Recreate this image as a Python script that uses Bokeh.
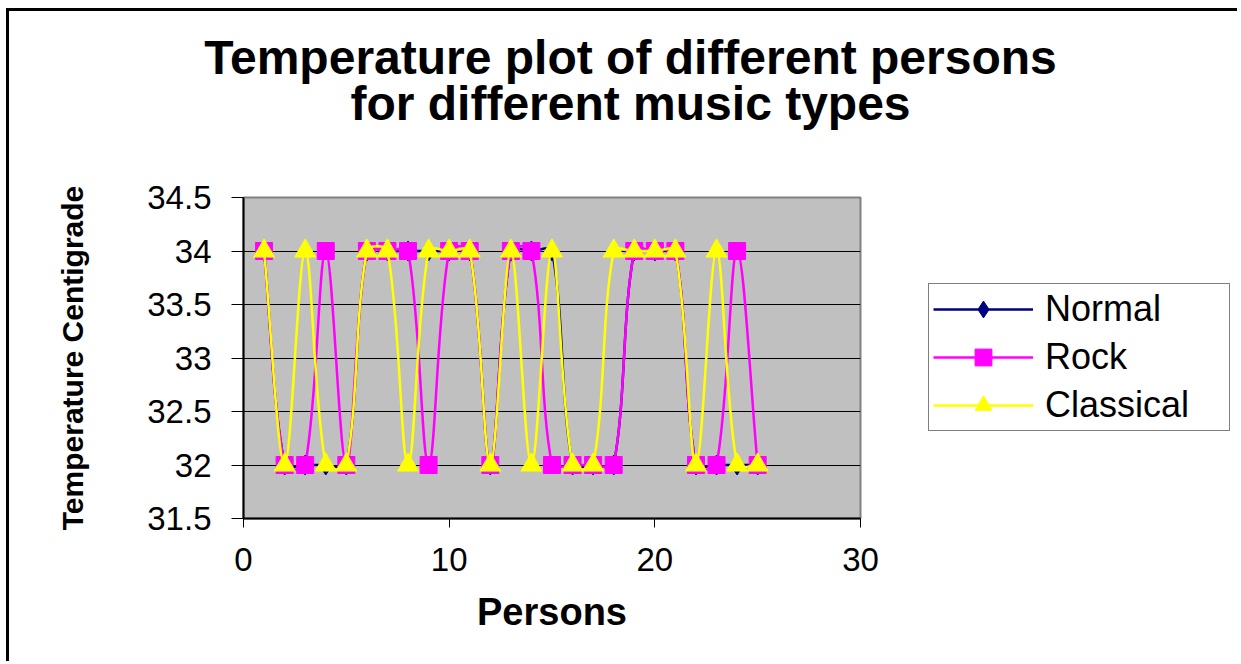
import numpy as np
from bokeh.plotting import figure
from bokeh.layouts import column, row
from bokeh.models import (Label, Legend, LegendItem, Range1d, FixedTicker,
                          NumeralTickFormatter)
from bokeh.embed import file_html
from bokeh.resources import INLINE

# ---------------- data ----------------
persons = list(range(1, 26))
normal = [34, 32, 32, 32, 32, 34, 34, 34, 34, 34, 34, 32, 34, 34, 34, 32, 32, 32, 34, 34, 34, 32, 32, 32, 32]
rock = [34, 32, 32, 34, 32, 34, 34, 34, 32, 34, 34, 32, 34, 34, 32, 32, 32, 32, 34, 34, 34, 32, 32, 34, 32]
classical = [34, 32, 34, 32, 32, 34, 34, 32, 34, 34, 34, 32, 34, 32, 34, 32, 32, 34, 34, 34, 34, 32, 34, 32, 32]
series_names = ["Normal", "Rock", "Classical"]
x_ticks = [0, 10, 20, 30]
y_ticks = [31.5, 32, 32.5, 33, 33.5, 34, 34.5]
title_lines = ["Temperature plot of different persons", "for different music types"]
x_label = "Persons"
y_label = "Temperature Centigrade"

FONT = "Liberation Sans"
X_RANGE = (0, 30)
Y_RANGE = (31.5, 34.5)

# ---------------- layout (page pixels) ----------------
MARGIN_L, MARGIN_T, BORDER = 6, 8, 3
CANVAS_LEFT, CANVAS_TOP = MARGIN_L + BORDER, MARGIN_T + BORDER
W = 1228
TOTAL_H = 650
TOP_H = 166                               # title strip
FRAME_L, FRAME_R, FRAME_T, FRAME_B = 243, 860, 197, 518
MAIN_TOP = CANVAS_TOP + TOP_H
MAIN_H = TOTAL_H - TOP_H
PW = 876                                  # chart figure width
LW = W - PW                               # legend strip width
LEG_L, LEG_B = 928, 431                   # legend box left / bottom

px_per_x = (FRAME_R - FRAME_L) / (X_RANGE[1] - X_RANGE[0])
px_per_y = (FRAME_B - FRAME_T) / (Y_RANGE[1] - Y_RANGE[0])


def smooth_segments(xs, ys, f=1.0 / 6.0):
    """Excel-like smoothed line: Bezier segments whose control arms are weighted
    by the on-screen lengths of the neighbouring segments."""
    x = np.asarray(xs, float)
    y = np.asarray(ys, float)
    n = len(x)
    xp = np.concatenate([[x[0]], x, [x[-1]]])
    yp = np.concatenate([[y[0]], y, [y[-1]]])

    def dist(i, j):
        return np.hypot((xp[j] - xp[i]) * px_per_x, (yp[j] - yp[i]) * px_per_y)

    out = {k: [] for k in ("x0", "y0", "x1", "y1", "cx0", "cy0", "cx1", "cy1")}
    for s in range(n - 1):
        a, b, c, d = s, s + 1, s + 2, s + 3
        d01, d12, d23 = dist(a, b), dist(b, c), dist(c, d)
        k1 = f * 2 * d12 / (d01 + d12) if d01 + d12 > 0 else f
        k2 = f * 2 * d12 / (d12 + d23) if d12 + d23 > 0 else f
        out["x0"].append(xp[b]); out["y0"].append(yp[b])
        out["x1"].append(xp[c]); out["y1"].append(yp[c])
        out["cx0"].append(xp[b] + (xp[c] - xp[a]) * k1)
        out["cy0"].append(yp[b] + (yp[c] - yp[a]) * k1)
        out["cx1"].append(xp[c] - (xp[d] - xp[b]) * k2)
        out["cy1"].append(yp[c] - (yp[d] - yp[b]) * k2)
    return out


def plain(fig):
    if "frame_align" in fig.properties():
        fig.frame_align = False
    fig.title.visible = False
    fig.border_fill_color = "white"


# ---------------- title strip ----------------
top = figure(width=W, height=TOP_H, output_backend="svg", toolbar_location=None,
             x_range=Range1d(0, 1), y_range=Range1d(0, 1),
             x_axis_type=None, y_axis_type=None, min_border=0)
plain(top)
top.outline_line_color = None
top.grid.visible = False
top.background_fill_color = "white"
for txt, cy in zip(title_lines, [57, 103]):
    top.add_layout(Label(x=630 - CANVAS_LEFT, y=MAIN_TOP - cy, x_units="screen", y_units="screen",
                         text=txt, text_font=FONT, text_font_style="bold", text_font_size="48px",
                         text_align="center", text_baseline="middle", text_color="black"))

# ---------------- main chart ----------------
p = figure(
    width=PW, height=MAIN_H, output_backend="svg", toolbar_location=None,
    x_range=Range1d(*X_RANGE), y_range=Range1d(*Y_RANGE),
    min_border_left=FRAME_L - CANVAS_LEFT, min_border_right=PW - (FRAME_R - CANVAS_LEFT),
    min_border_top=FRAME_T - MAIN_TOP, min_border_bottom=MAIN_TOP + MAIN_H - FRAME_B,
)
plain(p)
p.background_fill_color = "#C0C0C0"
p.outline_line_color = "#808080"
p.outline_line_width = 2

p.xgrid.visible = False
p.ygrid.ticker = FixedTicker(ticks=y_ticks)
p.ygrid.grid_line_color = "black"
p.ygrid.grid_line_width = 1

for ax in (p.xaxis[0], p.yaxis[0]):
    ax.axis_line_color = "black"
    ax.axis_line_width = 2
    ax.major_tick_line_color = "black"
    ax.major_tick_line_width = 1
    ax.major_tick_in = 0
    ax.minor_tick_line_color = None
    ax.major_label_text_font = FONT
    ax.major_label_text_font_size = "33px"
    ax.major_label_text_color = "black"
    ax.axis_label_text_font = FONT
    ax.axis_label_text_font_style = "bold"
    ax.axis_label_text_color = "black"

p.xaxis.ticker = FixedTicker(ticks=x_ticks)
p.xaxis.major_tick_out = 9
p.xaxis.major_label_standoff = 20
p.xaxis.axis_label = x_label
p.xaxis.axis_label_text_font_size = "38px"
p.xaxis.axis_label_standoff = 17

p.yaxis.ticker = FixedTicker(ticks=y_ticks)
p.yaxis.major_tick_out = 12
p.yaxis.major_label_standoff = 20
p.yaxis.formatter = NumeralTickFormatter(format="0.[0]")
p.yaxis.axis_label = y_label
p.yaxis.axis_label_text_font_size = "30px"
p.yaxis.axis_label_standoff = 55

styles = [
    dict(color="#000080", marker="diamond", size=20),
    dict(color="#FF00FF", marker="square", size=17),
    dict(color="#FFFF00", marker="triangle", size=21),
]

# ---------------- legend strip (right of the chart) ----------------
lf = figure(width=LW, height=MAIN_H, output_backend="svg", toolbar_location=None,
            x_range=Range1d(*X_RANGE), y_range=Range1d(*Y_RANGE),
            x_axis_type=None, y_axis_type=None, min_border=0)
plain(lf)
lf.outline_line_color = None
lf.grid.visible = False
lf.background_fill_color = "white"

items = []
for name, vals, st in zip(series_names, [normal, rock, classical], styles):
    seg = smooth_segments(persons, vals)
    p.bezier(line_color=st["color"], line_width=2.5, **seg)
    p.scatter(persons, vals, marker=st["marker"], size=st["size"],
              fill_color=st["color"], line_color=st["color"], line_width=1)
    # key glyphs for the legend strip (same series, not drawn there)
    kb = lf.bezier(line_color=st["color"], line_width=2.5, visible=False, **seg)
    ks = lf.scatter(persons, vals, marker=st["marker"], size=st["size"], visible=False,
                    fill_color=st["color"], line_color=st["color"], line_width=1)
    items.append(LegendItem(label=name, renderers=[kb, ks]))

legend = Legend(items=items, location=(LEG_L - (CANVAS_LEFT + PW), (MAIN_TOP + MAIN_H) - LEG_B))
legend.glyph_width = 100
legend.glyph_height = 42
legend.label_height = 42
legend.label_width = 180
legend.label_standoff = 12
legend.spacing = 6
legend.padding = 4
legend.margin = 0
legend.border_line_color = "black"
legend.border_line_width = 1.5
legend.background_fill_color = "white"
legend.background_fill_alpha = 1
legend.inactive_fill_alpha = 0
legend.label_text_font = FONT
legend.label_text_font_size = "36px"
legend.label_text_color = "black"
lf.add_layout(legend)

layout = column(top, row(p, lf, spacing=0), spacing=0,
                styles={"margin-left": f"{MARGIN_L}px", "margin-top": f"{MARGIN_T}px",
                        "border-left": f"{BORDER}px solid black",
                        "border-top": f"{BORDER}px solid black"})

open("out.html", "w").write(file_html(layout, INLINE))
